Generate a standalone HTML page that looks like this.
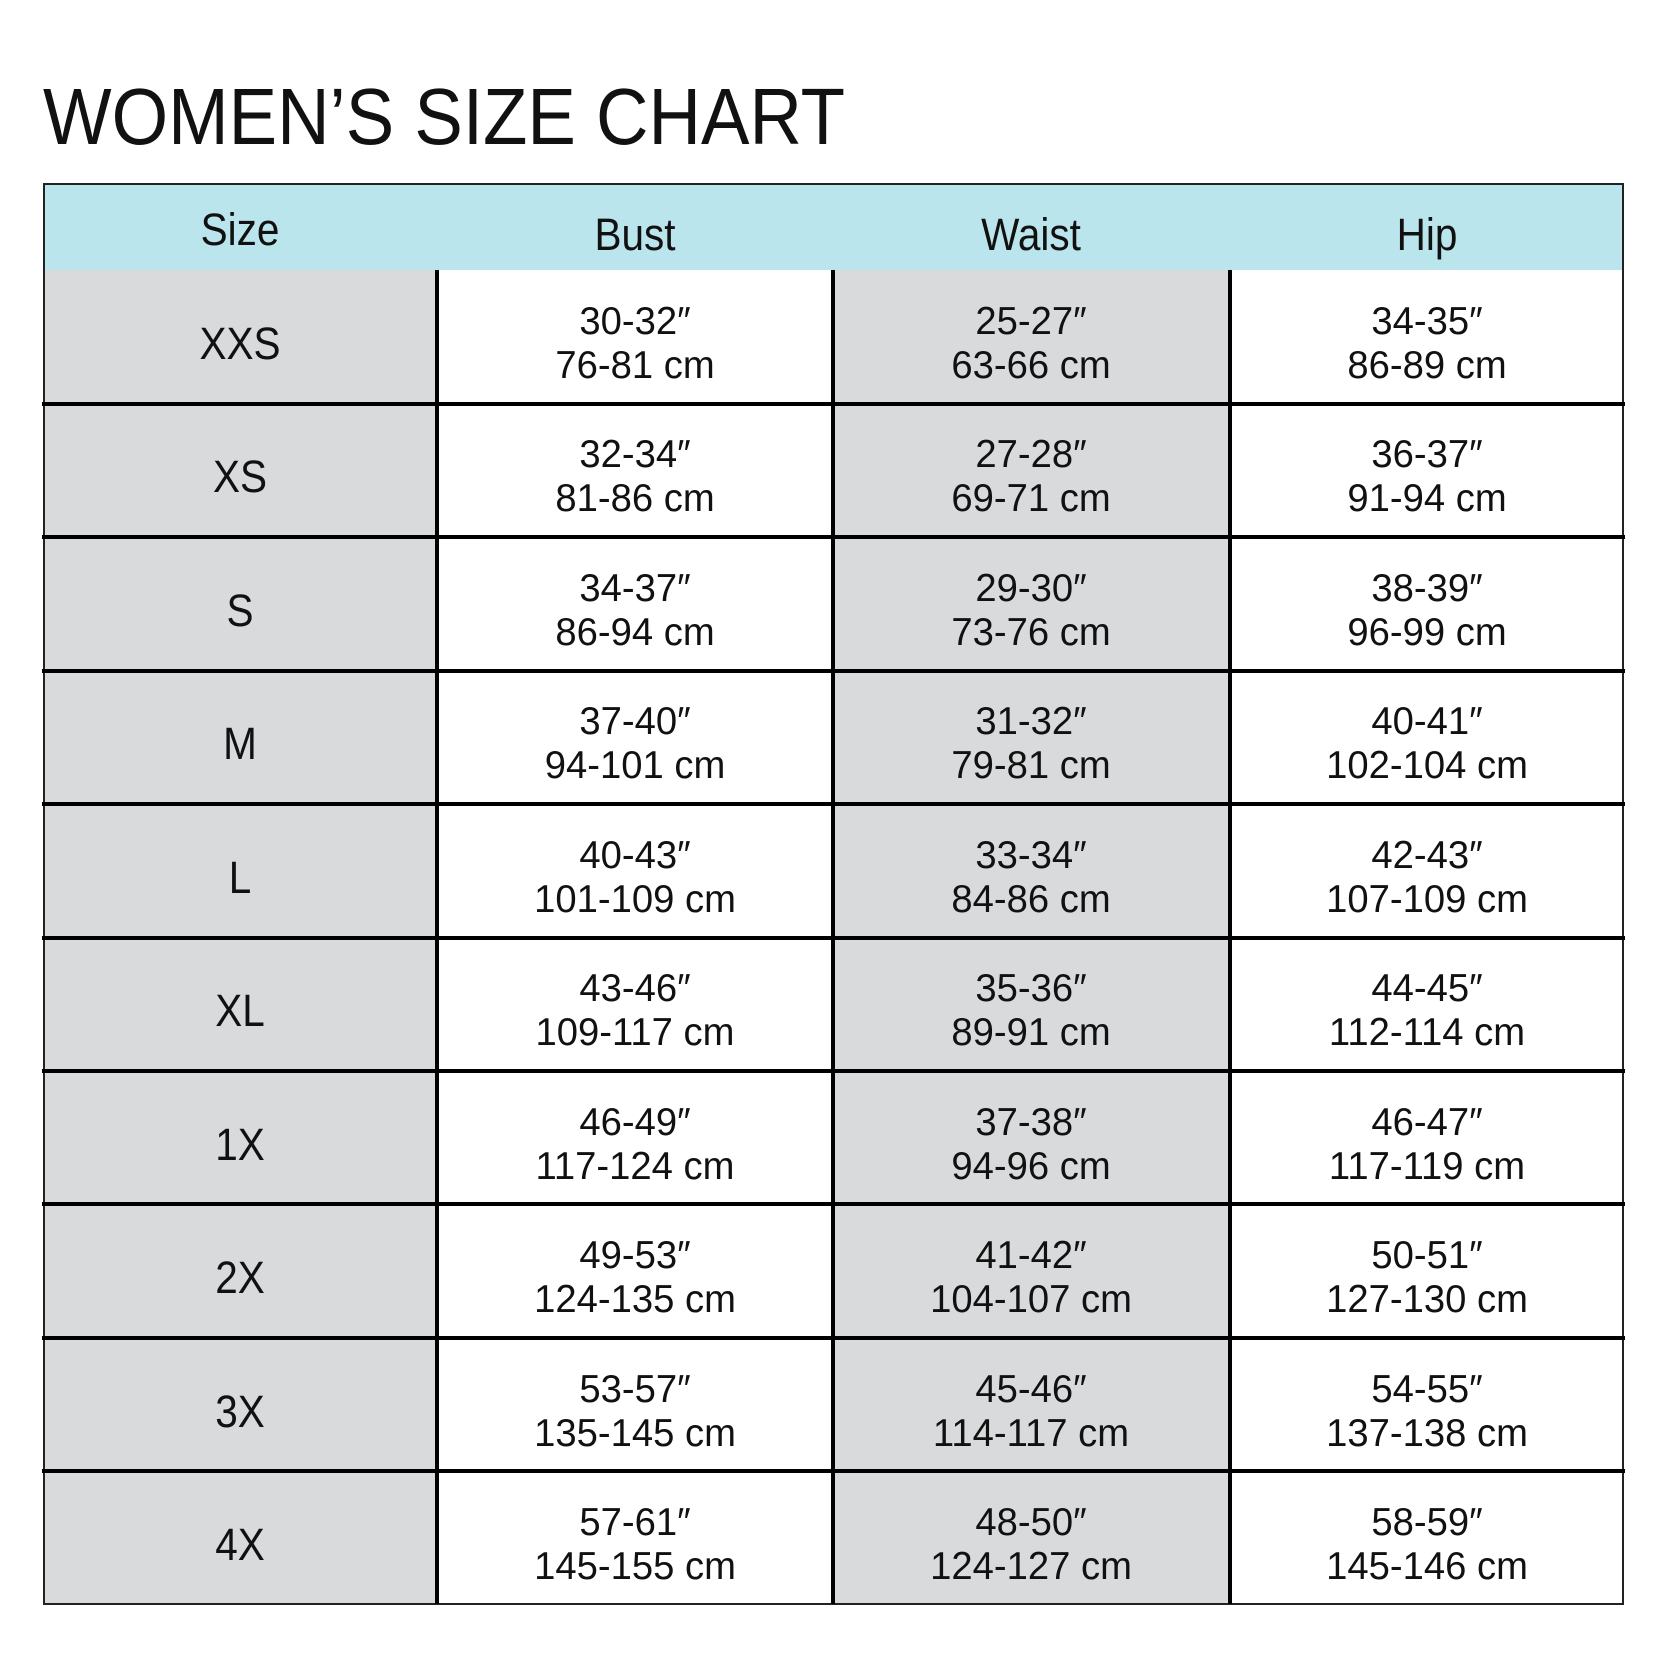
<!DOCTYPE html>
<html><head><meta charset="utf-8"><style>
html,body{margin:0;padding:0;background:#fff;}
svg{display:block;}
text{font-family:"Liberation Sans",sans-serif;fill:#111;}
</style></head><body>
<svg width="1667" height="1667" viewBox="0 0 1667 1667" xmlns="http://www.w3.org/2000/svg">
<rect width="1667" height="1667" fill="#fff"/>
<text x="43" y="144" font-size="80" textLength="802" lengthAdjust="spacingAndGlyphs">WOMEN’S SIZE CHART</text>
<rect x="43" y="184" width="1581" height="86" fill="#bae5ec"/>
<rect x="43" y="270" width="394" height="1334" fill="#d9dadc"/>
<rect x="833" y="270" width="397" height="1334" fill="#d9dadc"/>
<rect x="44" y="184" width="1579" height="1420" fill="none" stroke="#222" stroke-width="2"/>
<g stroke="#000" stroke-width="4">
<line x1="437" y1="270" x2="437" y2="1604"/>
<line x1="833" y1="270" x2="833" y2="1604"/>
<line x1="1230" y1="270" x2="1230" y2="1604"/>
</g>
<g stroke="#000" stroke-width="4">
<line x1="42" y1="404" x2="1625" y2="404"/>
<line x1="42" y1="537" x2="1625" y2="537"/>
<line x1="42" y1="671" x2="1625" y2="671"/>
<line x1="42" y1="804" x2="1625" y2="804"/>
<line x1="42" y1="938" x2="1625" y2="938"/>
<line x1="42" y1="1071" x2="1625" y2="1071"/>
<line x1="42" y1="1204" x2="1625" y2="1204"/>
<line x1="42" y1="1338" x2="1625" y2="1338"/>
<line x1="42" y1="1471" x2="1625" y2="1471"/>
</g>
<g font-size="45" text-anchor="middle">
<text transform="translate(240,245) scale(0.9,1)">Size</text>
<text transform="translate(635,250) scale(0.9,1)">Bust</text>
<text transform="translate(1031,250) scale(0.9,1)">Waist</text>
<text transform="translate(1427,250) scale(0.9,1)">Hip</text>
</g>
<g font-size="45" text-anchor="middle">
<text transform="translate(240,359) scale(0.9,1)">XXS</text>
<text transform="translate(240,492) scale(0.9,1)">XS</text>
<text transform="translate(240,626) scale(0.9,1)">S</text>
<text transform="translate(240,759) scale(0.9,1)">M</text>
<text transform="translate(240,893) scale(0.9,1)">L</text>
<text transform="translate(240,1026) scale(0.9,1)">XL</text>
<text transform="translate(240,1160) scale(0.9,1)">1X</text>
<text transform="translate(240,1293) scale(0.9,1)">2X</text>
<text transform="translate(240,1427) scale(0.9,1)">3X</text>
<text transform="translate(240,1560) scale(0.9,1)">4X</text>
</g>
<g font-size="39" text-anchor="middle">
<text transform="translate(635,334) scale(0.98,1)">30-32″</text><text transform="translate(635,378) scale(0.98,1)">76-81 cm</text>
<text transform="translate(1031,334) scale(0.98,1)">25-27″</text><text transform="translate(1031,378) scale(0.98,1)">63-66 cm</text>
<text transform="translate(1427,334) scale(0.98,1)">34-35″</text><text transform="translate(1427,378) scale(0.98,1)">86-89 cm</text>
<text transform="translate(635,467) scale(0.98,1)">32-34″</text><text transform="translate(635,511) scale(0.98,1)">81-86 cm</text>
<text transform="translate(1031,467) scale(0.98,1)">27-28″</text><text transform="translate(1031,511) scale(0.98,1)">69-71 cm</text>
<text transform="translate(1427,467) scale(0.98,1)">36-37″</text><text transform="translate(1427,511) scale(0.98,1)">91-94 cm</text>
<text transform="translate(635,601) scale(0.98,1)">34-37″</text><text transform="translate(635,645) scale(0.98,1)">86-94 cm</text>
<text transform="translate(1031,601) scale(0.98,1)">29-30″</text><text transform="translate(1031,645) scale(0.98,1)">73-76 cm</text>
<text transform="translate(1427,601) scale(0.98,1)">38-39″</text><text transform="translate(1427,645) scale(0.98,1)">96-99 cm</text>
<text transform="translate(635,734) scale(0.98,1)">37-40″</text><text transform="translate(635,778) scale(0.98,1)">94-101 cm</text>
<text transform="translate(1031,734) scale(0.98,1)">31-32″</text><text transform="translate(1031,778) scale(0.98,1)">79-81 cm</text>
<text transform="translate(1427,734) scale(0.98,1)">40-41″</text><text transform="translate(1427,778) scale(0.98,1)">102-104 cm</text>
<text transform="translate(635,868) scale(0.98,1)">40-43″</text><text transform="translate(635,912) scale(0.98,1)">101-109 cm</text>
<text transform="translate(1031,868) scale(0.98,1)">33-34″</text><text transform="translate(1031,912) scale(0.98,1)">84-86 cm</text>
<text transform="translate(1427,868) scale(0.98,1)">42-43″</text><text transform="translate(1427,912) scale(0.98,1)">107-109 cm</text>
<text transform="translate(635,1001) scale(0.98,1)">43-46″</text><text transform="translate(635,1045) scale(0.98,1)">109-117 cm</text>
<text transform="translate(1031,1001) scale(0.98,1)">35-36″</text><text transform="translate(1031,1045) scale(0.98,1)">89-91 cm</text>
<text transform="translate(1427,1001) scale(0.98,1)">44-45″</text><text transform="translate(1427,1045) scale(0.98,1)">112-114 cm</text>
<text transform="translate(635,1135) scale(0.98,1)">46-49″</text><text transform="translate(635,1179) scale(0.98,1)">117-124 cm</text>
<text transform="translate(1031,1135) scale(0.98,1)">37-38″</text><text transform="translate(1031,1179) scale(0.98,1)">94-96 cm</text>
<text transform="translate(1427,1135) scale(0.98,1)">46-47″</text><text transform="translate(1427,1179) scale(0.98,1)">117-119 cm</text>
<text transform="translate(635,1268) scale(0.98,1)">49-53″</text><text transform="translate(635,1312) scale(0.98,1)">124-135 cm</text>
<text transform="translate(1031,1268) scale(0.98,1)">41-42″</text><text transform="translate(1031,1312) scale(0.98,1)">104-107 cm</text>
<text transform="translate(1427,1268) scale(0.98,1)">50-51″</text><text transform="translate(1427,1312) scale(0.98,1)">127-130 cm</text>
<text transform="translate(635,1402) scale(0.98,1)">53-57″</text><text transform="translate(635,1446) scale(0.98,1)">135-145 cm</text>
<text transform="translate(1031,1402) scale(0.98,1)">45-46″</text><text transform="translate(1031,1446) scale(0.98,1)">114-117 cm</text>
<text transform="translate(1427,1402) scale(0.98,1)">54-55″</text><text transform="translate(1427,1446) scale(0.98,1)">137-138 cm</text>
<text transform="translate(635,1535) scale(0.98,1)">57-61″</text><text transform="translate(635,1579) scale(0.98,1)">145-155 cm</text>
<text transform="translate(1031,1535) scale(0.98,1)">48-50″</text><text transform="translate(1031,1579) scale(0.98,1)">124-127 cm</text>
<text transform="translate(1427,1535) scale(0.98,1)">58-59″</text><text transform="translate(1427,1579) scale(0.98,1)">145-146 cm</text>
</g>
</svg>
</body></html>
